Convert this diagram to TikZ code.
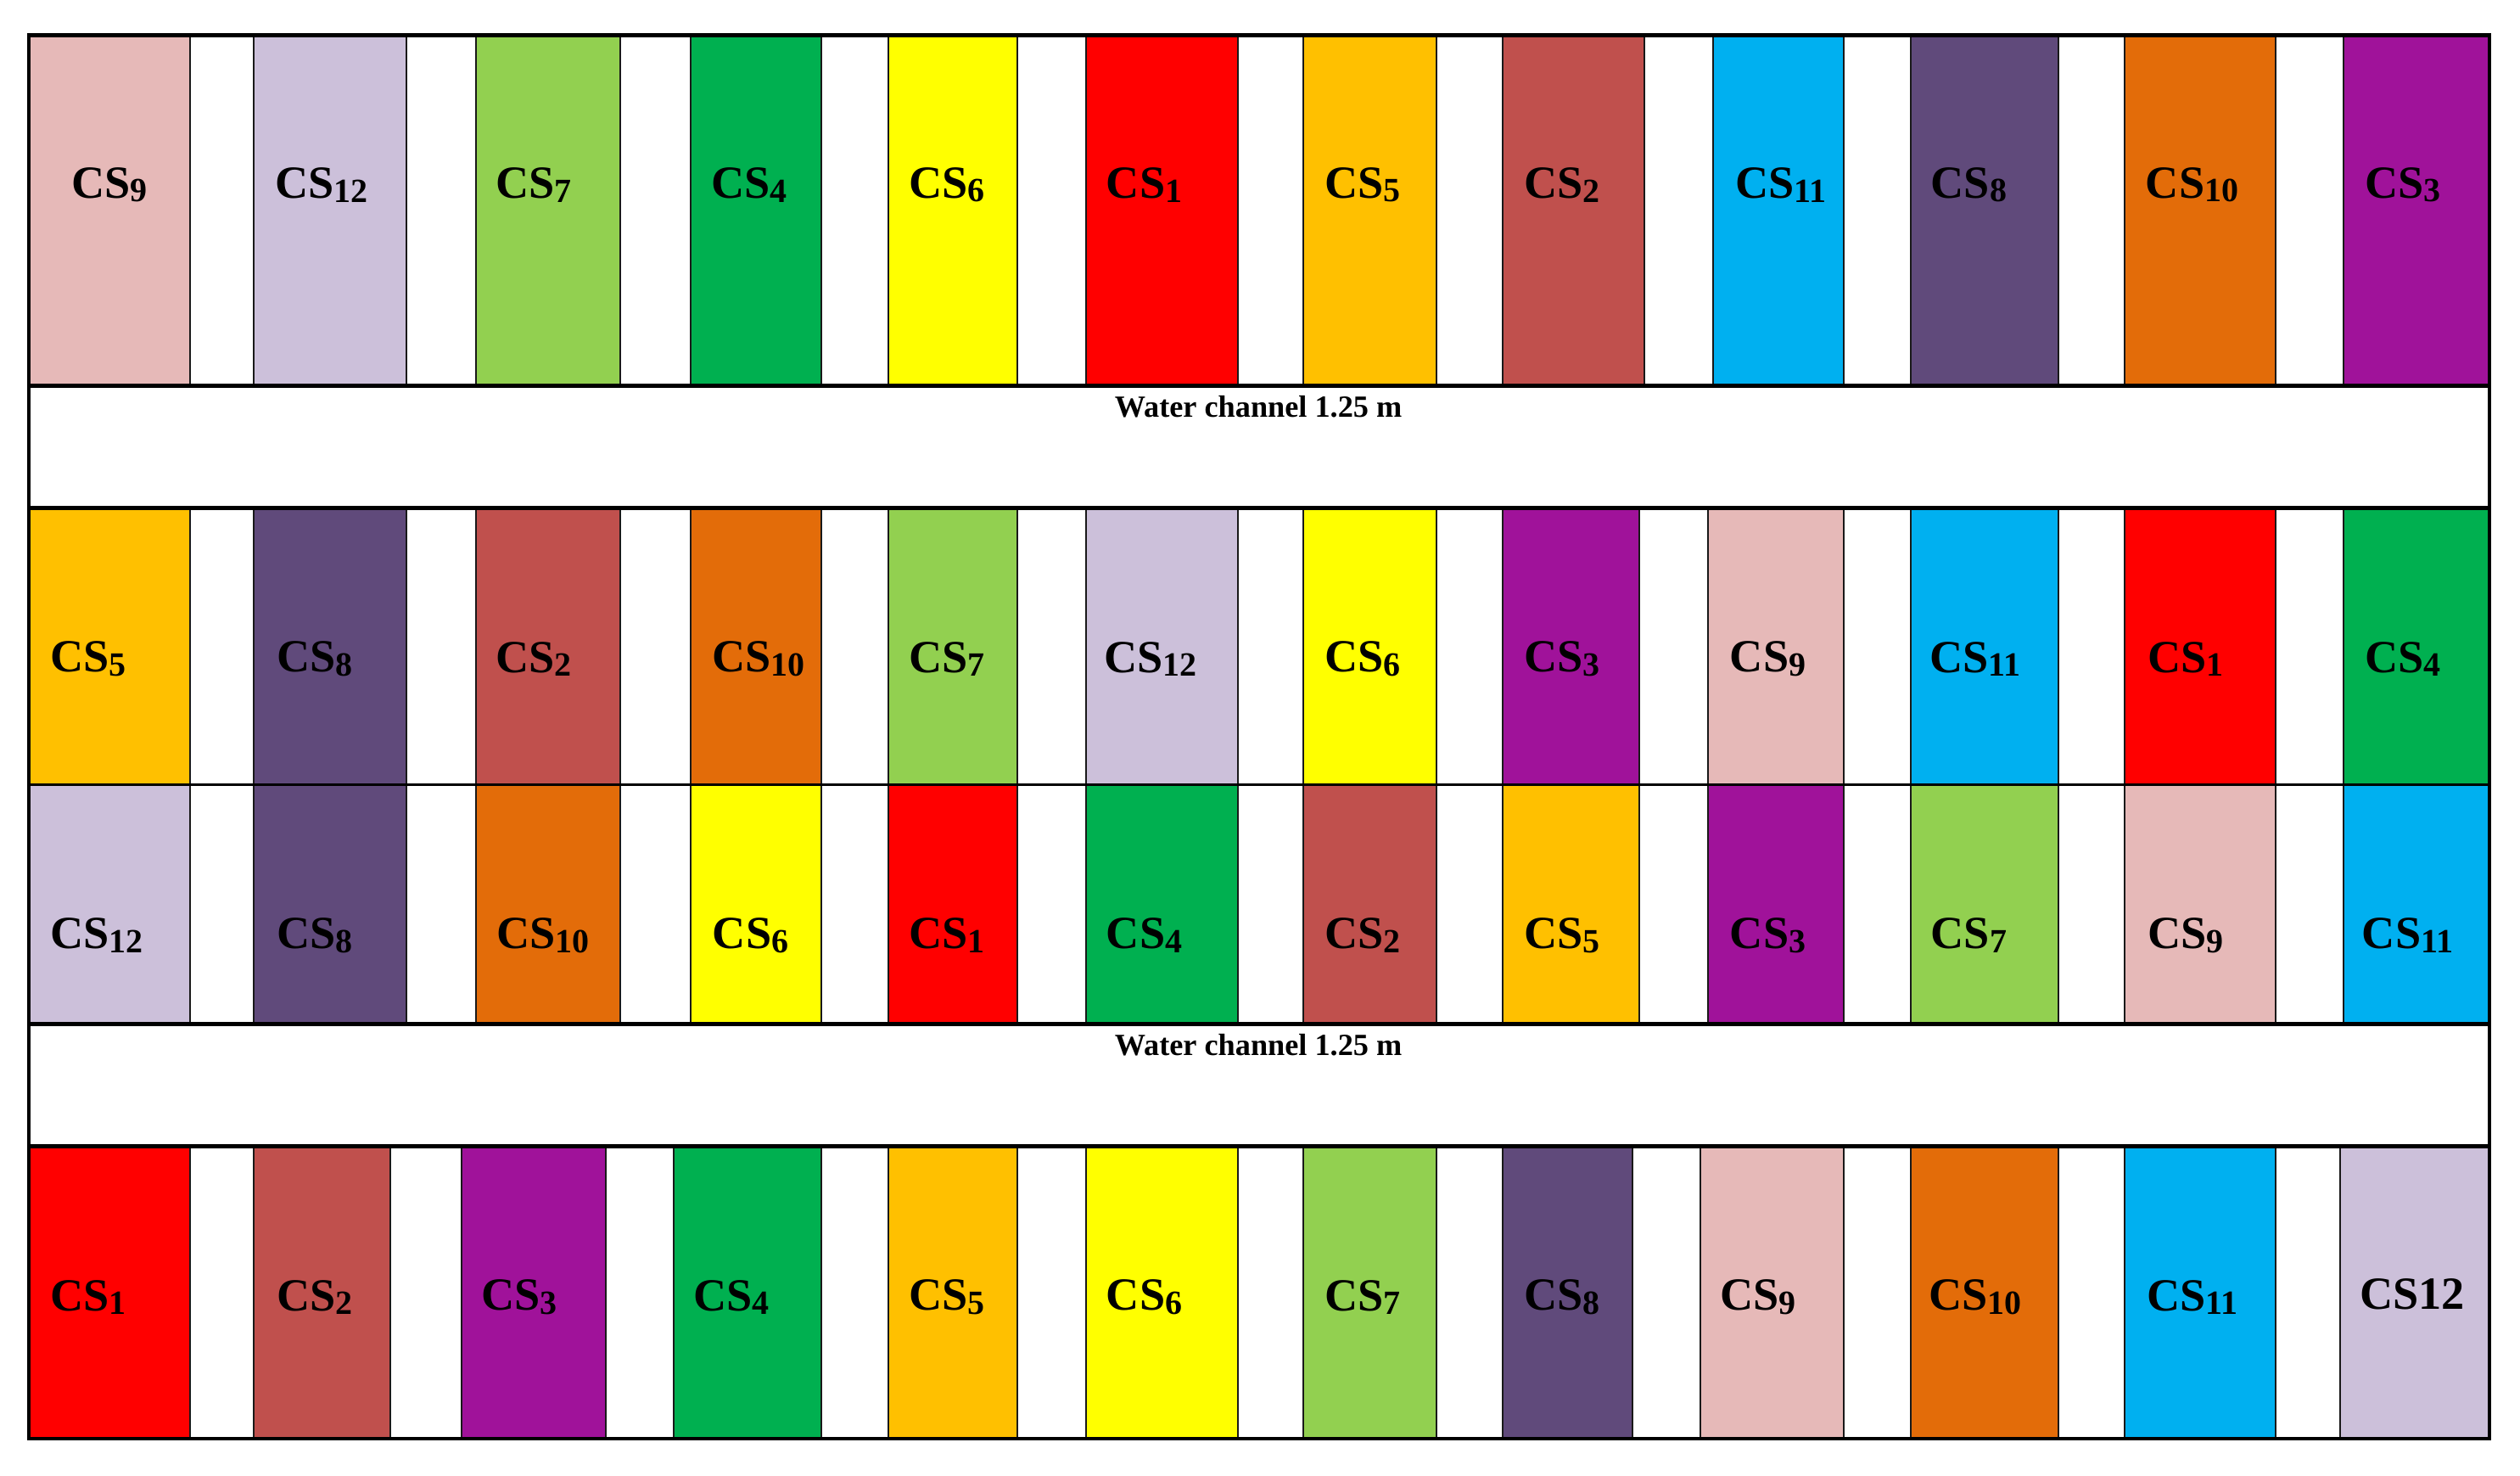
\documentclass[tikz,border=0pt]{standalone}
\usepackage{fontspec}
\setmainfont{Liberation Serif}
\definecolor{c1}{HTML}{FF0000}
\definecolor{c2}{HTML}{C0504D}
\definecolor{c3}{HTML}{A0129A}
\definecolor{c4}{HTML}{00B050}
\definecolor{c5}{HTML}{FFC000}
\definecolor{c6}{HTML}{FFFF00}
\definecolor{c7}{HTML}{92D050}
\definecolor{c8}{HTML}{604A7B}
\definecolor{c9}{HTML}{E6B9B8}
\definecolor{c10}{HTML}{E36C09}
\definecolor{c11}{HTML}{00B0F0}
\definecolor{c12}{HTML}{CCC0DA}
\newcommand{\cslab}[1]{CS{\fontsize{12}{12}\selectfont\raisebox{-0.12em}{#1}}}
\newcommand{\plotrow}[5]{%
  \foreach \xa/\xb/\cl/\xt [count=\k] in {#5} {
    \node[plotbox, fill=c\cl, minimum width={(\xb-\xa)*0.02cm}, minimum height={(#3-#2)*0.02cm}]
      (b#1-\k) at ({(\xa+\xb)/2},{(#2+#3)/2}) {};
    \node[lab] (t#1-\k) at (\xt,#4) {\cslab{\cl}};
  }}
\begin{document}
\begin{tikzpicture}[x=0.02cm,y=-0.02cm,
  plotbox/.style={draw=black!90,line width=0.6pt,inner sep=0pt,outer sep=0pt},
  lab/.style={font=\fontsize{16.3}{16.3}\selectfont\bfseries,inner sep=0pt},
  chlab/.style={font=\fontsize{10.9}{10.9}\selectfont\bfseries,inner sep=0pt},
  thick line/.style={line width=1.3pt,black}]
\useasboundingbox (0,0) rectangle (1568,918);
\fill[white] (0,0) rectangle (1568,918);

\plotrow{1}{22}{240}{115}{18/118/9/68, 158/253/12/200, 296/386/7/332, 430/511/4/466, 553/633/6/589, 676/770/1/712, 811/894/5/848, 935/1023/2/972, 1066/1147/11/1108, 1189/1281/8/1225, 1322/1416/10/1364, 1458/1549/3/1495}

\plotrow{2}{316}{488}{410}{18/118/5/55, 158/253/8/196, 296/386/2/332, 430/511/10/472, 553/633/7/589, 676/770/12/716, 811/894/6/848, 935/1020/3/972, 1063/1147/9/1100, 1189/1281/11/1229, 1322/1416/1/1360, 1458/1549/4/1495}

\plotrow{3}{488}{637}{582}{18/118/12/60, 158/253/8/196, 296/386/10/338, 430/511/6/467, 553/633/1/589, 676/770/4/712, 811/894/2/848, 935/1020/5/972, 1063/1147/3/1100, 1189/1281/7/1225, 1322/1416/9/1360, 1458/1549/11/1498}

\plotrow{4}{713}{895}{807}{18/118/1/55, 158/243/2/196, 287/377/3/323, 419/511/4/455, 553/633/5/589, 676/770/6/712, 811/894/7/848, 935/1016/8/972, 1058/1147/9/1094, 1189/1281/10/1229, 1322/1416/11/1364}
\node[plotbox, fill=c12, minimum width={(1549-1456)*0.02cm}, minimum height={(895-713)*0.02cm}]
  (b4-12) at ({(1456+1549)/2},{(713+895)/2}) {};
\node[lab] (t4-12) at (1501,805) {CS12};

% water channels
\node[chlab] (ch1) at (783,253) {Water channel 1.25 m};
\node[chlab] (ch2) at (783,650) {Water channel 1.25 m};

% frame and row borders
\draw[thick line] (18,22) rectangle (1549,895);
\draw[thick line] (18,240) -- (1549,240);
\draw[thick line] (18,316) -- (1549,316);
\draw[line width=1.0pt] (18,488) -- (1549,488);
\draw[thick line] (18,637) -- (1549,637);
\draw[thick line] (18,713) -- (1549,713);
\end{tikzpicture}
\end{document}
